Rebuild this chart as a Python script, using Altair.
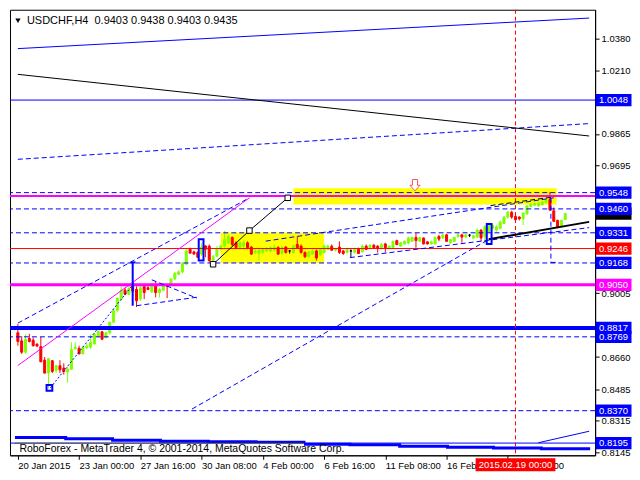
import altair as alt
import pandas as pd

# ---------------- data ----------------
opens = [
    0.8791, 0.8747, 0.8686, 0.8760, 0.8751, 0.8730, 0.8716, 0.8643, 0.8573, 0.8640,
    0.8587, 0.8613, 0.8600, 0.8579, 0.8594, 0.8704, 0.8707, 0.8677, 0.8709, 0.8713,
    0.8730, 0.8773, 0.8796, 0.8765, 0.8791, 0.8848, 0.8912, 0.8973, 0.9021, 0.8999,
    0.9051, 0.9025, 0.8973, 0.9042, 0.9034, 0.9011, 0.9048, 0.9008, 0.9021, 0.9048,
    0.9056, 0.9081, 0.9107, 0.9120, 0.9161, 0.9242, 0.9228, 0.9225, 0.9216, 0.9260,
    0.9259, 0.9181, 0.9205, 0.9242, 0.9259, 0.9277, 0.9306, 0.9277, 0.9251, 0.9259,
    0.9277, 0.9254, 0.9225, 0.9219, 0.9225, 0.9233, 0.9233, 0.9237, 0.9251, 0.9219,
    0.9254, 0.9233, 0.9225, 0.9268, 0.9259, 0.9225, 0.9202, 0.9216, 0.9233, 0.9212,
    0.9225, 0.9242, 0.9259, 0.9237, 0.9254, 0.9233, 0.9225, 0.9233, 0.9225, 0.9242,
    0.9228, 0.9259, 0.9250, 0.9264, 0.9259, 0.9250, 0.9271, 0.9247, 0.9250, 0.9289,
    0.9259, 0.9271, 0.9277, 0.9285, 0.9306, 0.9285, 0.9303, 0.9282, 0.9271, 0.9271,
    0.9311, 0.9303, 0.9320, 0.9277, 0.9285, 0.9311, 0.9320, 0.9308, 0.9318, 0.9303,
    0.9308, 0.9346, 0.9311, 0.9337, 0.9355, 0.9346, 0.9355, 0.9381, 0.9416, 0.9442,
    0.9419, 0.9416, 0.9407, 0.9433, 0.9473, 0.9480, 0.9476, 0.9482, 0.9494, 0.9511,
    0.9450, 0.9398, 0.9367, 0.9403]
highs = [
    0.8838, 0.8773, 0.8782, 0.8785, 0.8765, 0.8733, 0.8768, 0.8660, 0.8652, 0.8643,
    0.8617, 0.8643, 0.8626, 0.8608, 0.8739, 0.8739, 0.8721, 0.8721, 0.8730, 0.8782,
    0.8791, 0.8803, 0.8799, 0.8794, 0.8852, 0.8921, 0.8982, 0.9042, 0.9034, 0.9051,
    0.9069, 0.9042, 0.9051, 0.9051, 0.9042, 0.9060, 0.9069, 0.9034, 0.9060, 0.9051,
    0.9086, 0.9120, 0.9129, 0.9173, 0.9242, 0.9251, 0.9234, 0.9230, 0.9277, 0.9265,
    0.9268, 0.9211, 0.9259, 0.9268, 0.9341, 0.9320, 0.9311, 0.9285, 0.9285, 0.9290,
    0.9285, 0.9259, 0.9245, 0.9251, 0.9251, 0.9254, 0.9259, 0.9268, 0.9259, 0.9259,
    0.9259, 0.9237, 0.9268, 0.9311, 0.9268, 0.9230, 0.9233, 0.9242, 0.9240, 0.9251,
    0.9268, 0.9268, 0.9268, 0.9251, 0.9285, 0.9237, 0.9251, 0.9242, 0.9251, 0.9251,
    0.9268, 0.9268, 0.9268, 0.9271, 0.9264, 0.9277, 0.9277, 0.9264, 0.9289, 0.9294,
    0.9282, 0.9289, 0.9311, 0.9308, 0.9329, 0.9308, 0.9306, 0.9285, 0.9289, 0.9311,
    0.9320, 0.9325, 0.9325, 0.9297, 0.9311, 0.9329, 0.9325, 0.9325, 0.9325, 0.9320,
    0.9355, 0.9350, 0.9372, 0.9381, 0.9377, 0.9372, 0.9398, 0.9420, 0.9450, 0.9450,
    0.9425, 0.9420, 0.9442, 0.9480, 0.9490, 0.9494, 0.9497, 0.9503, 0.9520, 0.9552,
    0.9468, 0.9402, 0.9402, 0.9438]
lows = [
    0.8721, 0.8677, 0.8677, 0.8739, 0.8716, 0.8716, 0.8634, 0.8573, 0.8490, 0.8573,
    0.8573, 0.8573, 0.8565, 0.8521, 0.8591, 0.8700, 0.8674, 0.8677, 0.8704, 0.8704,
    0.8730, 0.8765, 0.8751, 0.8761, 0.8782, 0.8843, 0.8904, 0.8964, 0.8994, 0.8994,
    0.8990, 0.8930, 0.8964, 0.8973, 0.9021, 0.9008, 0.8982, 0.8982, 0.9016, 0.8978,
    0.9042, 0.9078, 0.9103, 0.9112, 0.9161, 0.9220, 0.9213, 0.9195, 0.9207, 0.9199,
    0.9172, 0.9168, 0.9200, 0.9233, 0.9251, 0.9268, 0.9259, 0.9242, 0.9245, 0.9237,
    0.9242, 0.9212, 0.9216, 0.9181, 0.9219, 0.9228, 0.9225, 0.9230, 0.9212, 0.9212,
    0.9219, 0.9219, 0.9219, 0.9245, 0.9219, 0.9195, 0.9198, 0.9212, 0.9181, 0.9205,
    0.9219, 0.9237, 0.9233, 0.9230, 0.9216, 0.9212, 0.9219, 0.9195, 0.9219, 0.9216,
    0.9225, 0.9237, 0.9242, 0.9245, 0.9224, 0.9247, 0.9224, 0.9242, 0.9247, 0.9264,
    0.9255, 0.9268, 0.9268, 0.9282, 0.9250, 0.9282, 0.9268, 0.9268, 0.9268, 0.9268,
    0.9285, 0.9297, 0.9282, 0.9271, 0.9282, 0.9303, 0.9277, 0.9303, 0.9308, 0.9297,
    0.9303, 0.9285, 0.9271, 0.9329, 0.9350, 0.9337, 0.9350, 0.9377, 0.9407, 0.9407,
    0.9398, 0.9398, 0.9372, 0.9429, 0.9468, 0.9476, 0.9473, 0.9480, 0.9490, 0.9450,
    0.9389, 0.9355, 0.9360, 0.9403]
closes = [
    0.8744, 0.8686, 0.8756, 0.8744, 0.8721, 0.8719, 0.8634, 0.8573, 0.8652, 0.8582,
    0.8613, 0.8591, 0.8582, 0.8594, 0.8700, 0.8713, 0.8677, 0.8713, 0.8719, 0.8739,
    0.8782, 0.8799, 0.8756, 0.8791, 0.8848, 0.8912, 0.8977, 0.9021, 0.8999, 0.9030,
    0.9016, 0.8964, 0.9034, 0.9008, 0.9025, 0.9048, 0.9008, 0.9025, 0.9048, 0.9042,
    0.9081, 0.9112, 0.9120, 0.9164, 0.9234, 0.9221, 0.9216, 0.9199, 0.9254, 0.9242,
    0.9181, 0.9202, 0.9245, 0.9259, 0.9294, 0.9311, 0.9268, 0.9251, 0.9277, 0.9277,
    0.9251, 0.9216, 0.9233, 0.9237, 0.9242, 0.9245, 0.9251, 0.9254, 0.9216, 0.9251,
    0.9225, 0.9233, 0.9259, 0.9251, 0.9225, 0.9202, 0.9228, 0.9233, 0.9195, 0.9242,
    0.9259, 0.9259, 0.9237, 0.9245, 0.9225, 0.9219, 0.9242, 0.9233, 0.9242, 0.9219,
    0.9259, 0.9242, 0.9264, 0.9250, 0.9247, 0.9268, 0.9250, 0.9259, 0.9285, 0.9268,
    0.9277, 0.9285, 0.9303, 0.9306, 0.9289, 0.9306, 0.9271, 0.9271, 0.9282, 0.9306,
    0.9297, 0.9320, 0.9285, 0.9294, 0.9306, 0.9320, 0.9308, 0.9320, 0.9318, 0.9315,
    0.9346, 0.9303, 0.9363, 0.9372, 0.9372, 0.9363, 0.9389, 0.9416, 0.9442, 0.9416,
    0.9402, 0.9407, 0.9438, 0.9476, 0.9485, 0.9490, 0.9490, 0.9497, 0.9511, 0.9454,
    0.9393, 0.9363, 0.9398, 0.9435]

time_tick_bars = [0, 16, 32, 48, 64, 80, 96, 112, 128]
time_tick_labels = ["20 Jan 2015", "23 Jan 00:00", "27 Jan 16:00", "30 Jan 08:00",
                    "4 Feb 00:00", "6 Feb 16:00", "11 Feb 08:00", "16 Feb 00:00",
                    "18 Feb 16:00"]
axis_prices = [1.0380, 1.0210, 0.9865, 0.9695, 0.9005, 0.8660, 0.8485, 0.8315, 0.8145]

# horizontal levels
level_prices = [1.0048, 0.9530, 0.9548, 0.9460, 0.9331, 0.9246, 0.9168, 0.9050, 0.8817, 0.8769, 0.8370, 0.8195]
level_colors = ["#0000FF", "#FF00FF", "#0000FF", "#0000FF", "#0000FF", "#FF0000", "#0000FF", "#FF00FF", "#0000FF", "#0000FF", "#0000FF", "#0000FF"]
level_widths = [1, 2, 1, 1, 1, 1, 1, 3, 4, 1, 1, 1]
level_dashed = [False, False, True, True, True, False, True, False, False, True, True, False]

# price tags on the right scale (first one is the current-price tag, mostly hidden)
tag_prices = [0.9435, 1.0048, 0.9548, 0.9460, 0.9331, 0.9246, 0.9168, 0.9050, 0.8817, 0.8769, 0.8370, 0.8195]
tag_colors = ["#000000", "#0000FF", "#0000FF", "#0000FF", "#0000FF", "#FF0000", "#0000FF", "#FF00FF", "#0000FF", "#0000FF", "#0000FF", "#0000FF"]
tag_texts = ["", "1.0048", "0.9548", "0.9460", "0.9331", "0.9246", "0.9168", "0.9050", "0.8817", "0.8769", "0.8370", "0.8195"]

# drawn trend lines: bar1, price1, bar2, price2, colour, width, style
seg_b1 = [0, 0, 0, 0, 0, 8.5, 51, 60.5, 30, 29.5, 31, 35, 64.75, 123.5, 86.75, 123, 45.5, 139.25, 139.25, 136, -0.75]
seg_p1 = [1.0326, 1.0187, 0.9728, 0.8614, 0.8843, 0.8494, 0.9161, 0.9343, 0.9171, 0.9171, 0.8937, 0.9077, 0.9286, 0.9478, 0.9197, 0.9296, 0.8379, 0.9520, 0.9171, 0.8197, 0.8194]
seg_b2 = [149.25, 149.25, 149.25, 60.5, 60.5, 30.5, 60.5, 70.5, 30, 30.75, 46.75, 46.75, 140, 140, 149.25, 149.25, 123.5, 139.25, 140.5, 149.25, 74.75]
seg_p2 = [1.0491, 0.9854, 0.9921, 0.9520, 0.9520, 0.9062, 0.9343, 0.9520, 0.8937, 0.9171, 0.8983, 0.8978, 0.9520, 0.9525, 0.9359, 0.9390, 0.9301, 0.9171, 0.9171, 0.8259, 0.8194]
seg_color = ["#0000FF", "#000000", "#0000FF", "#FF00FF", "#0000FF", "#0000FF", "#000000", "#000000", "#0000FF", "#0000FF", "#0000FF", "#0000FF", "#0000FF", "#000000", "#0000FF", "#000000", "#0000FF", "#0000FF", "#0000FF", "#0000FF", "#404040"]
seg_width = [1, 1, 1, 1, 1, 1, 1, 1, 2, 2, 1, 1, 1, 1, 1, 2, 1, 1, 1, 1, 1]
seg_style = ["solid", "solid", "dash", "solid", "dash", "dot", "solid", "solid", "solid", "solid", "dash", "dash", "dash", "dash", "dash", "solid", "dash", "dash", "dash", "solid", "solid"]

# stepped thick line at the bottom
step_bars = [-0.75, 12.5, 24.75, 37.25, 49.75, 62.25, 74.75, 86.75, 99.75, 112.25, 124.25, 136.75, 149.5]
step_prices = [0.8225, 0.8218, 0.8210, 0.8205, 0.8202, 0.8199, 0.8189, 0.8186, 0.8178, 0.8173, 0.8168, 0.8165, 0.8165]

# yellow zones
zone_b1 = [53, 72]
zone_b2 = [80, 140.75]
zone_p1 = [0.9168, 0.9484]
zone_p2 = [0.9331, 0.9572]

# blue marker boxes
box_b1 = [7.5, 47.25, 122.5]
box_b2 = [9, 48.5, 123.75]
box_p1 = [0.8478, 0.9181, 0.9270]
box_p2 = [0.8509, 0.9296, 0.9379]

# black squares of the wave line
sq_bars = [51, 60.5, 70.5]
sq_prices = [0.9161, 0.9343, 0.9520]

arrow_bar = [103.75]
arrow_price = [0.9588]

vline_bar = [130]
vline_label = ["2015.02.19 00:00"]

title_text = "USDCHF,H4\u00a0\u00a00.9403 0.9438 0.9403 0.9435"
copyright_text = "RoboForex - MetaTrader 4, \u00a9 2001-2014, MetaQuotes Software Corp."

# ---------------- chart ----------------
W, H = 587, 447
FONT = "Liberation Sans"
XS = alt.Scale(domain=[-0.75, 149.5], nice=False, zero=False)
YS = alt.Scale(domain=[0.8129, 1.0536], nice=False, zero=False)

label_expr = " : ".join(f"datum.value == {b} ? '{t}'" for b, t in zip(time_tick_bars, time_tick_labels)) + " : ''"
XAX = alt.Axis(values=time_tick_bars, labelExpr=label_expr, labelAlign="left", labelBaseline="top",
               labelPadding=1, tickSize=4, tickColor="black", domainColor="black", labelColor="black",
               labelFont=FONT, labelFontSize=9.5, labelFlush=False, labelOverlap=False, grid=False, title=None)
YAX = alt.Axis(orient="right", values=axis_prices, format=".4f", tickSize=4, tickColor="black",
               domainColor="black", labelColor="black", labelFont=FONT, labelFontSize=9.5,
               labelPadding=2, labelOverlap=False, labelFlush=False, grid=False, title=None)


def X(f):
    return alt.X(f, type="quantitative", scale=XS, axis=XAX)


def Y(f):
    return alt.Y(f, type="quantitative", scale=YS, axis=YAX)


cdf = pd.DataFrame({"bar": list(range(len(opens))), "o": opens, "h": highs, "l": lows, "c": closes})
cdf["hh"] = cdf[["h", "o", "c"]].max(axis=1)
cdf["ll"] = cdf[["l", "o", "c"]].min(axis=1)
cdf["lo"] = cdf[["o", "c"]].min(axis=1)
cdf["hi"] = cdf[["o", "c"]].max(axis=1)
cdf["col"] = ["#7FFF00" if c > o else ("#FF0000" if c < o else "#000000") for o, c in zip(opens, closes)]

ldf = pd.DataFrame({"p": level_prices, "col": level_colors, "w": level_widths, "d": level_dashed})
sdf = pd.DataFrame({"b1": seg_b1, "p1": seg_p1, "b2": seg_b2, "p2": seg_p2, "col": seg_color, "w": seg_width, "s": seg_style})
tdf = pd.DataFrame({"p": tag_prices, "col": tag_colors, "t": tag_texts})
stdf = pd.DataFrame({"bar": step_bars, "p": step_prices})
zdf = pd.DataFrame({"b1": zone_b1, "b2": zone_b2, "p1": zone_p1, "p2": zone_p2})
bdf = pd.DataFrame({"b1": box_b1, "b2": box_b2, "p1": box_p1, "p2": box_p2})
qdf = pd.DataFrame({"bar": sq_bars, "p": sq_prices})
adf = pd.DataFrame({"bar": arrow_bar, "p": arrow_price})
vdf = pd.DataFrame({"bar": vline_bar, "t": vline_label})
cpdf = pd.DataFrame({"b1": [-0.6], "b2": [74.75], "p1": [0.8131], "p2": [0.8194], "t": [copyright_text], "bt": [0.4], "pt": [0.81625]})

zones = alt.Chart(zdf).mark_rect(color="#FFFF00").encode(x=X("b1"), x2="b2", y=Y("p1"), y2="p2")
cbox = alt.Chart(cpdf).mark_rect(color="white").encode(x=X("b1"), x2="b2", y=Y("p1"), y2="p2")

wicks = alt.Chart(cdf).mark_rule(strokeWidth=1).encode(
    x=X("bar"), y=Y("ll"), y2="hh", color=alt.Color("col:N", scale=None))
bodies = alt.Chart(cdf).mark_bar(size=2, strokeWidth=1).encode(
    x=X("bar"), y=Y("lo"), y2="hi", fill=alt.Fill("col:N", scale=None), stroke=alt.Stroke("col:N", scale=None))

lev_solid = alt.Chart(ldf[~ldf["d"]]).mark_rule().encode(
    y=Y("p"), color=alt.Color("col:N", scale=None), strokeWidth=alt.StrokeWidth("w:Q", scale=None))
lev_dash = alt.Chart(ldf[ldf["d"]]).mark_rule(strokeDash=[5, 3]).encode(
    y=Y("p"), color=alt.Color("col:N", scale=None), strokeWidth=alt.StrokeWidth("w:Q", scale=None))
vline = alt.Chart(vdf).mark_rule(color="#FF0000", strokeDash=[4, 3], strokeWidth=1).encode(x=X("bar"))


def seg_layer(style, dash=None):
    kw = {}
    if dash is not None:
        kw["strokeDash"] = dash
    return alt.Chart(sdf[sdf["s"] == style]).mark_rule(**kw).encode(
        x=X("b1"), x2="b2", y=Y("p1"), y2="p2",
        color=alt.Color("col:N", scale=None), strokeWidth=alt.StrokeWidth("w:Q", scale=None))


seg_solid = seg_layer("solid")
seg_dash = seg_layer("dash", [5, 3])
seg_dot = seg_layer("dot", [2, 2])

steps = alt.Chart(stdf).mark_line(interpolate="step-after", strokeWidth=3, color="#0000FF").encode(
    x=X("bar"), y=Y("p"))

boxes = alt.Chart(bdf).mark_rect(fillOpacity=0, stroke="#0000FF", strokeWidth=2).encode(
    x=X("b1"), x2="b2", y=Y("p1"), y2="p2")
squares = alt.Chart(qdf).mark_point(shape="square", filled=True, fill="white", stroke="black",
                                    strokeWidth=1, size=30, opacity=1).encode(x=X("bar"), y=Y("p"))
arrow = alt.Chart(adf).mark_point(
    shape="M-0.45,-1L0.45,-1L0.45,0L0.9,0L0,1L-0.9,0L-0.45,0Z", size=130, filled=True,
    fill="white", stroke="#FF5050", strokeWidth=1, opacity=1).encode(x=X("bar"), y=Y("p"))

tag_box = alt.Chart(tdf).mark_point(
    shape="M-1,-0.34L1,-0.34L1,0.34L-1,0.34Z", size=1296, filled=True, opacity=1, strokeWidth=0).encode(
    x=alt.value(W + 18.5), y=Y("p"), fill=alt.Fill("col:N", scale=None))
tag_text = alt.Chart(tdf[tdf["t"] != ""]).mark_text(align="left", baseline="middle", color="white", font=FONT, fontSize=9.5).encode(
    x=alt.value(W + 4), y=Y("p"), text="t:N")

vl_box = alt.Chart(vdf).mark_point(
    shape="M-1,-0.1625L1,-0.1625L1,0.1625L-1,0.1625Z", size=6400, filled=True, opacity=1,
    fill="#FF0000", strokeWidth=0).encode(x=X("bar"), y=alt.value(H + 9.5))
vl_text = alt.Chart(vdf).mark_text(align="center", baseline="middle", color="white", font=FONT, fontSize=9.5).encode(
    x=X("bar"), y=alt.value(H + 9.5), text="t:N")

title_df = pd.DataFrame({"t": [title_text]})
title = alt.Chart(title_df).mark_text(align="left", baseline="middle", color="black", font=FONT, fontSize=11).encode(
    x=alt.value(17), y=alt.value(11), text="t:N")
tri = alt.Chart(title_df).mark_point(shape="triangle-down", filled=True, color="black", size=28, opacity=1).encode(
    x=alt.value(8), y=alt.value(11))
ctext = alt.Chart(cpdf).mark_text(align="left", baseline="middle", color="black", font=FONT, fontSize=10.5).encode(
    x=X("bt"), y=Y("pt"), text="t:N")

chart = alt.layer(
    zones, wicks, bodies, lev_solid, lev_dash, vline, seg_dash, seg_dot, steps, cbox, seg_solid,
    boxes, squares, arrow, tag_box, tag_text, vl_box, vl_text, title, tri, ctext
).properties(width=W, height=H, padding=0, background="white").configure_view(
    stroke="black", strokeWidth=1
)

chart.save("out.html", embed_options={"renderer": "svg", "actions": False})
